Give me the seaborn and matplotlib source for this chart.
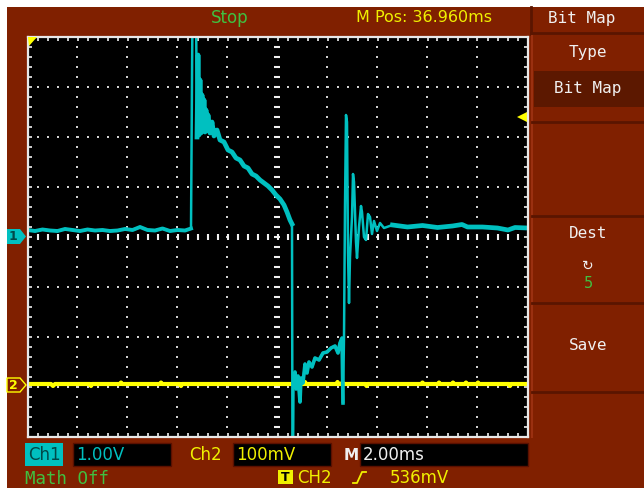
import numpy as np
import pandas as pd
import matplotlib
matplotlib.use("Agg")
import matplotlib.pyplot as plt
import seaborn as sns
from matplotlib.patches import Rectangle, Polygon
from matplotlib.lines import Line2D

# =====================================
# DATA
# =====================================

# CH1 trace: time in ms from screen centre, volts (1.00 V/div)
ch1_time = [
    -10.0, -9.7, -9.4, -9.1, -8.8, -8.5, -8.2, -7.9, -7.6, -7.3, -7.0, -6.7,
    -6.4, -6.1, -5.8, -5.5, -5.2, -4.9, -4.6, -4.3, -4.0, -3.7, -3.46,
    -3.40, -3.26, -3.22, -3.18, -3.14, -3.10, -3.06, -3.02, -2.98, -2.94,
    -2.90, -2.86, -2.82, -2.78, -2.70, -2.62, -2.54, -2.42, -2.30, -2.14,
    -1.98, -1.82, -1.66, -1.50, -1.34, -1.18, -1.02, -0.86, -0.70, -0.54,
    -0.38, -0.22, -0.06, 0.10, 0.26, 0.38, 0.50, 0.58, 0.60, 0.62,
    0.64, 0.66, 0.70, 0.74, 0.82, 0.90, 0.94, 1.02, 1.10, 1.18, 1.26, 1.38,
    1.50, 1.66, 1.82, 1.98, 2.14, 2.30, 2.42, 2.50, 2.58, 2.62, 2.66,
    2.70, 2.74, 2.78, 2.82, 2.86, 2.90, 2.98, 3.02, 3.06, 3.14, 3.18, 3.26,
    3.34, 3.38, 3.46, 3.54, 3.62, 3.70, 3.78, 3.86, 3.98, 4.10, 4.26,
    4.6, 5.2, 5.8, 6.4, 7.0, 7.38, 7.6, 8.2, 8.8, 9.22, 9.5, 10.0,
]
ch1_volts = [
    0.14, 0.12, 0.15, 0.13, 0.12, 0.16, 0.14, 0.12, 0.15, 0.13, 0.14, 0.12,
    0.13, 0.16, 0.14, 0.20, 0.14, 0.13, 0.17, 0.12, 0.14, 0.13, 0.17,
    4.6, 4.6, 2.00, 3.64, 2.04, 3.14, 2.08, 2.84, 2.14, 2.74,
    2.10, 2.54, 2.14, 2.44, 2.08, 2.30, 2.02, 2.14, 1.94, 1.90,
    1.74, 1.70, 1.58, 1.54, 1.42, 1.38, 1.26, 1.22, 1.14, 1.08,
    1.02, 0.94, 0.84, 0.76, 0.64, 0.50, 0.34, 0.26, -4.6, -4.6,
    -2.90, -2.86, -2.70, -3.04, -2.78, -3.30, -2.82, -2.92, -2.54, -2.72, -2.50, -2.60,
    -2.42, -2.46, -2.32, -2.30, -2.22, -2.18, -2.32, -2.12, -2.02, -3.32, -2.00,
    0.60, 2.44, 2.30, -0.30, -1.32, -0.40, 0.40, 1.26, 1.10, -0.10, -0.42, 0.20,
    0.62, 0.50, 0.00, -0.06, 0.46, 0.40, 0.06, 0.32, 0.12, 0.28, 0.18,
    0.24, 0.20, 0.23, 0.19, 0.22, 0.25, 0.20, 0.20, 0.18, 0.14, 0.19, 0.18,
]

# CH2 trace: time in ms from screen centre, millivolts (100 mV/div)
ch2_time = [
    -10.0, -9.06, -8.98, -8.90, -7.50, -7.46, -7.42, -6.30, -6.26, -6.22,
    -4.70, -4.66, -4.62, -3.90, -3.86, -3.82, 1.06, 1.10, 1.14, 2.36,
    2.40, 2.44, 2.56, 2.60, 2.64, 3.52, 3.56, 3.60, 5.76, 5.80,
    5.84, 6.42, 6.46, 6.50, 6.98, 7.02, 7.06, 7.50, 7.54, 7.58,
    7.98, 8.02, 8.06, 9.26, 9.30, 9.34, 10.0,
]
ch2_mv = [
    2, 2, -2, 2, 2, -2, 2, 2, 5, 2,
    2, 5, 2, 2, -2, 2, 2, 6, 2, 2,
    6, 2, 2, 5, 2, 2, -2, 2, 2, 5,
    2, 2, 5, 2, 2, 5, 2, 2, 5, 2,
    2, 5, 2, 2, -2, 2, 2,
]

ch1_scale = 1.0        # V/div
ch2_scale = 100.0      # mV/div
time_per_div = 2.0     # ms/div
ch2_ground_div = -2.96
trigger_level_mv = 536

# =====================================
# COLOURS / LAYOUT
# =====================================

W, H = 644, 488
RED = "#802000"
DARK_RED = "#5a1500"
CYAN = "#00c0c0"
YELLOW = "#ffff00"
TXT_YELLOW = "#f0f000"
GREEN = "#40c040"
WHITE = "#f0f0f0"
GRID = "#d0d0d0"
FONT = "DejaVu Sans"
MONO = "DejaVu Sans Mono"


def fx(x):
    return x / W


def fy(y):
    return 1 - y / H


def box(x0, y0, x1, y1, fc, ec="none", lw=0, z=-5):
    fig.add_artist(Rectangle((fx(x0), fy(y1)), (x1 - x0) / W, (y1 - y0) / H,
                             transform=fig.transFigure, facecolor=fc,
                             edgecolor=ec, linewidth=lw, zorder=z))


def text(x, y, s, color, size=11, ha="left", family=FONT, **kw):
    fig.text(fx(x), fy(y), s, color=color, fontsize=size, ha=ha,
             va="center", family=family, zorder=10, **kw)


def hline(x0, x1, y, color, lw=1.5):
    fig.add_artist(Line2D([fx(x0), fx(x1)], [fy(y), fy(y)],
                          transform=fig.transFigure, color=color, lw=lw, zorder=-4))


def vline(x, y0, y1, color, lw=1.5):
    fig.add_artist(Line2D([fx(x), fx(x)], [fy(y0), fy(y1)],
                          transform=fig.transFigure, color=color, lw=lw, zorder=-4))


fig = plt.figure(figsize=(W / 100, H / 100), dpi=100, facecolor="white")

# red instrument background (white strip on top/left of the screenshot)
box(7, 7, W, H, RED, z=-10)

# =====================================
# SCOPE SCREEN
# =====================================

ax = fig.add_axes([fx(27.5), fy(437), 500 / W, 400 / H], zorder=1)
ax.set_facecolor("black")
ax.set_xlim(-5, 5)
ax.set_ylim(-4, 4)

# dotted graticule
for gx in range(-4, 5):
    if gx == 0:
        continue
    ys = np.arange(-4, 4.01, 0.2)
    ax.plot(np.full(len(ys), gx), ys, ls="none", marker="s", ms=1.5,
            color=GRID, mew=0)
for gy in range(-3, 4):
    if gy == 0:
        continue
    xs = np.arange(-5, 5.01, 0.2)
    ax.plot(xs, np.full(len(xs), gy), ls="none", marker="s", ms=1.5,
            color=GRID, mew=0)

# centre lines with small dashes
ys = np.arange(-4, 4.01, 0.2)
ax.plot(np.zeros(len(ys)), ys, ls="none", marker="_", ms=4.5, mew=1.5, color=WHITE)
xs = np.arange(-5, 5.01, 0.2)
ax.plot(xs, np.zeros(len(xs)), ls="none", marker="|", ms=4.5, mew=1.5, color=WHITE)

# edge ticks
ax.set_xticks(np.arange(-5, 5.01, 0.2))
ax.set_yticks(np.arange(-4, 4.01, 0.2))
ax.tick_params(direction="in", length=3, width=1.2, color=WHITE,
               top=True, right=True, labelbottom=False, labelleft=False)
for sp in ax.spines.values():
    sp.set_color("#e8e8e8")
    sp.set_linewidth(1.6)

# traces, converted to divisions
ch1 = pd.DataFrame({
    "div_x": np.array(ch1_time) / time_per_div,
    "div_y": np.array(ch1_volts) / ch1_scale,
})
ch2 = pd.DataFrame({
    "div_x": np.array(ch2_time) / time_per_div,
    "div_y": np.array(ch2_mv) / ch2_scale + ch2_ground_div,
})

sns.lineplot(data=ch2, x="div_x", y="div_y", sort=False, estimator=None,
             color=YELLOW, lw=3.0, ax=ax)
sns.lineplot(data=ch1, x="div_x", y="div_y", sort=False, estimator=None,
             color=CYAN, lw=1.8, ax=ax)
# thicker band on the quiet parts and the decay of CH1
sns.lineplot(data=ch1.iloc[:23], x="div_x", y="div_y", sort=False,
             estimator=None, color=CYAN, lw=2.8, ax=ax)
sns.lineplot(data=ch1.iloc[25:61], x="div_x", y="div_y", sort=False,
             estimator=None, color=CYAN, lw=3.4, ax=ax)
sns.lineplot(data=ch1.iloc[63:85], x="div_x", y="div_y", sort=False,
             estimator=None, color=CYAN, lw=2.6, ax=ax)
sns.lineplot(data=ch1.iloc[-12:], x="div_x", y="div_y", sort=False,
             estimator=None, color=CYAN, lw=3.4, ax=ax)
ax.set_xlabel("")
ax.set_ylabel("")

# trigger level arrow
trig_div = ch2_ground_div + trigger_level_mv / ch2_scale
ax.plot(4.9, trig_div, marker="<", ms=7, color=YELLOW, mew=0, clip_on=False)

# trigger position flag in the top-left corner
fig.add_artist(Polygon([(fx(28), fy(37)), (fx(37), fy(37)), (fx(29), fy(46))],
                       closed=True, transform=fig.transFigure,
                       facecolor=YELLOW, edgecolor="none", zorder=5))

# channel ground markers
m1 = [(7, 229), (20, 229), (26, 236.5), (20, 244), (7, 244)]
fig.add_artist(Polygon([(fx(a), fy(b)) for a, b in m1], closed=True,
                       transform=fig.transFigure, facecolor=CYAN,
                       edgecolor="none", zorder=5))
text(13, 237, "1", "#004848", size=9, ha="center", weight="bold")
m2 = [(7, 378), (20, 378), (26, 385), (20, 392), (7, 392)]
fig.add_artist(Polygon([(fx(a), fy(b)) for a, b in m2], closed=True,
                       transform=fig.transFigure, facecolor="none",
                       edgecolor=YELLOW, lw=1, zorder=5))
text(13.5, 385.5, "2", YELLOW, size=9, ha="center", weight="bold")

# =====================================
# TOP STATUS LINE
# =====================================

text(230, 18, "Stop", GREEN, size=12, ha="center")
text(356, 18, "M Pos: 36.960ms", TXT_YELLOW, size=11.5)

# =====================================
# RIGHT MENU
# =====================================

vline(531, 7, 34, DARK_RED, lw=2)
hline(531, W, 33, DARK_RED, lw=2)
text(582, 19, "Bit Map", WHITE, size=11.5, ha="center", family=MONO)

vline(532, 36, 437, "#9a3010", lw=1.5)
text(588, 53, "Type", WHITE, size=11.5, ha="center", family=MONO)
box(534, 71, W, 107, "#5c1800")
text(588, 89, "Bit Map", WHITE, size=11.5, ha="center", family=MONO)
for sep in [122, 216, 303, 392]:
    hline(532, W, sep, DARK_RED, lw=2)
text(588, 233, "Dest", WHITE, size=11.5, ha="center", family=MONO)
text(588, 266, "↻", WHITE, size=10, ha="center")
text(588, 283, "5", GREEN, size=11, ha="center", family=MONO)
text(588, 345, "Save", WHITE, size=11.5, ha="center", family=MONO)

# =====================================
# BOTTOM STATUS LINE
# =====================================

box(25, 443, 63, 466, CYAN)
text(44, 455, "Ch1", "#004848", size=12, ha="center")
box(73, 443, 171, 466, "black", ec="#5a1000", lw=1)
text(76, 455, "1.00V", CYAN, size=12)
text(205, 455, "Ch2", TXT_YELLOW, size=12, ha="center")
box(233, 443, 331, 466, "black", ec="#5a1000", lw=1)
text(236, 455, "100mV", TXT_YELLOW, size=12)
text(351, 455, "M", WHITE, size=11, ha="center", weight="bold")
box(360, 443, 528, 466, "black", ec="#5a1000", lw=1)
text(363, 455, "2.00ms", WHITE, size=12)

text(25, 479, "Math Off", GREEN, size=12.5, family=MONO)
box(278, 470, 293, 484, TXT_YELLOW, z=5)
text(285.5, 477.5, "T", "black", size=9, ha="center", weight="bold")
text(297, 478, "CH2", TXT_YELLOW, size=12)
fig.add_artist(Line2D([fx(353), fx(357), fx(362), fx(366)],
                      [fy(483), fy(483), fy(472), fy(472)],
                      transform=fig.transFigure, color=TXT_YELLOW, lw=1.3, zorder=10))
text(390, 478, "536mV", TXT_YELLOW, size=12)

fig.savefig("out.png", dpi=100, facecolor=fig.get_facecolor())
